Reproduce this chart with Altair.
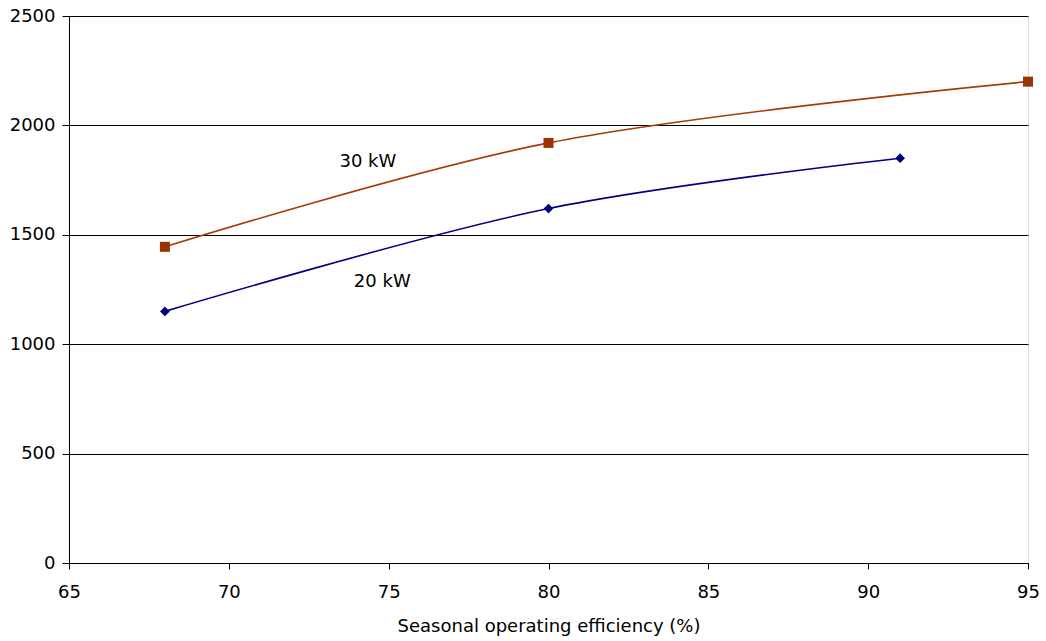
import altair as alt
import pandas as pd

eff_20 = [68, 80, 91]
val_20 = [1150, 1620, 1850]
eff_30 = [68, 80, 95]
val_30 = [1445, 1920, 2200]

label_text = ["30 kW", "20 kW"]
label_x = [74.35, 74.8]
label_y = [1833, 1284]

df = pd.DataFrame({
    "eff": eff_20 + eff_30,
    "val": val_20 + val_30,
    "series": ["20 kW"] * len(eff_20) + ["30 kW"] * len(eff_30),
})
df_lab = pd.DataFrame({"x": label_x, "y": label_y, "t": label_text})

FONT = "DejaVu Sans"
FS = 18

x = alt.X("eff:Q", scale=alt.Scale(domain=[65, 95], nice=False, zero=False),
          axis=alt.Axis(values=[65, 70, 75, 80, 85, 90, 95], title="Seasonal operating efficiency (%)",
                        grid=False, tickColor="black", tickSize=6, domainColor="black", format="d",
                        labelFlush=False, labelOverlap=False,
                        labelFontSize=FS, labelFont=FONT, labelColor="black", labelPadding=14,
                        titleFontSize=FS, titleFont=FONT, titleFontWeight="normal", titleColor="black",
                        titlePadding=16))
y = alt.Y("val:Q", scale=alt.Scale(domain=[0, 2500], nice=False),
          axis=alt.Axis(values=[0, 500, 1000, 1500, 2000, 2500], title=None, format="d",
                        labelFlush=False, labelOverlap=False,
                        grid=True, gridColor="black", gridWidth=1, gridOpacity=1,
                        tickColor="black", tickSize=7, domainColor="black",
                        labelFontSize=FS, labelFont=FONT, labelColor="black", labelPadding=7))

color = alt.Color("series:N", scale=alt.Scale(domain=["20 kW", "30 kW"], range=["#000080", "#A83A08"]), legend=None)

lines = alt.Chart(df).mark_line(interpolate="catmull-rom", strokeWidth=1.6).encode(x=x, y=y, color=color, detail="series:N")

pts20 = alt.Chart(df[df.series == "20 kW"]).mark_point(shape="diamond", filled=True, size=95, opacity=1, color="#000080").encode(x="eff:Q", y="val:Q")
pts30 = alt.Chart(df[df.series == "30 kW"]).mark_point(shape="square", filled=True, size=100, opacity=1, color="#993300").encode(x="eff:Q", y="val:Q")

labels = alt.Chart(df_lab).mark_text(fontSize=FS, font=FONT, color="black").encode(x="x:Q", y="y:Q", text="t:N")

chart = alt.layer(lines, pts20, pts30, labels).properties(
    width=959, height=547,
    autosize=alt.AutoSizeParams(type="none"),
    padding={"left": 69, "top": 16, "right": 18, "bottom": 78},
).configure_view(stroke="#808080", strokeWidth=1).configure(background="white")

chart.save("out.html", embed_options={"renderer": "svg", "actions": False})
